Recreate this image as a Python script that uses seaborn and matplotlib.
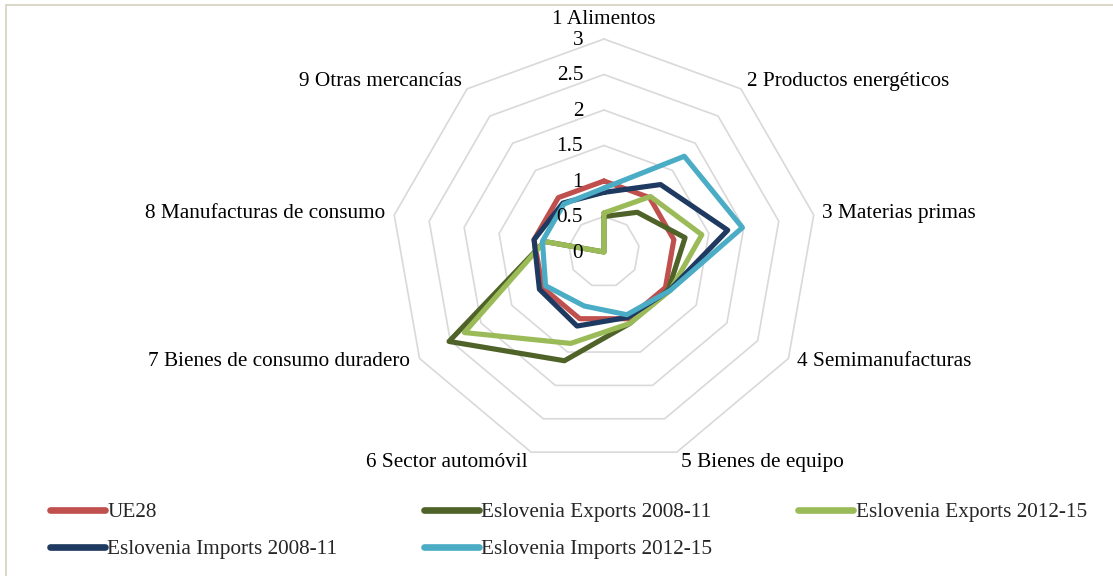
import numpy as np
import pandas as pd
import seaborn as sns
import matplotlib.pyplot as plt
from matplotlib.patches import Rectangle

# categories and series
categories = ["1 Alimentos", "2 Productos energéticos", "3 Materias primas",
              "4 Semimanufacturas", "5 Bienes de equipo", "6 Sector automóvil",
              "7 Bienes de consumo duradero", "8 Manufacturas de consumo",
              "9 Otras mercancías"]
ue28 = [1.0, 1.0, 1.0, 1.0, 1.0, 1.0, 1.0, 1.0, 1.0]
exp_0811 = [0.50, 0.73, 1.16, 1.05, 1.07, 1.63, 2.52, 0.85, 0.0]
exp_1215 = [0.55, 1.02, 1.40, 1.08, 1.07, 1.37, 2.27, 0.85, 0.0]
imp_0811 = [0.84, 1.24, 1.77, 1.07, 0.98, 1.11, 1.05, 1.00, 0.90]
imp_1215 = [0.90, 1.76, 1.98, 1.08, 0.94, 0.81, 0.95, 0.88, 0.88]
rings = [0.5, 1.0, 1.5, 2.0, 2.5, 3.0]

series = {"UE28": ue28,
          "Eslovenia Exports 2008-11": exp_0811,
          "Eslovenia Exports 2012-15": exp_1215,
          "Eslovenia Imports 2008-11": imp_0811,
          "Eslovenia Imports 2012-15": imp_1215}
colors = {"UE28": "#C0504D",
          "Eslovenia Exports 2008-11": "#4F6228",
          "Eslovenia Exports 2012-15": "#9BBB59",
          "Eslovenia Imports 2008-11": "#1F3A60",
          "Eslovenia Imports 2012-15": "#4BACC6"}

n = len(categories)
theta = np.linspace(0, 2 * np.pi, n + 1)

# long format, closing each polygon with its first value
rows = []
for name, vals in series.items():
    closed = list(vals) + [vals[0]]
    for i in range(n + 1):
        rows.append({"theta": theta[i], "value": closed[i], "serie": name})
df = pd.DataFrame(rows)

sns.set_style("white")
plt.rcParams["font.family"] = ["Liberation Serif", "DejaVu Serif"]
fs = 15.3

fig = plt.figure(figsize=(11.13, 5.76), dpi=100)
ax = fig.add_axes([0.3513, 0.1927, 0.3827, 0.7396], projection="polar")
ax.set_theta_zero_location("N")
ax.set_theta_direction(-1)
ax.set_facecolor("none")

# polygon grid
for r in rings:
    ax.plot(theta, [r] * (n + 1), color="#D9D9D9", lw=1.2, zorder=1, clip_on=False)

sns.lineplot(data=df, x="theta", y="value", hue="serie", hue_order=list(series.keys()),
             palette=colors, sort=False, estimator=None, linewidth=3.7, ax=ax, zorder=3)
for ln in ax.lines:
    ln.set_clip_on(False)

handles, labels = ax.get_legend_handles_labels()
ax.get_legend().remove()

ax.set_ylim(0, 3)
ax.grid(False)
ax.spines["polar"].set_visible(False)
ax.set_xticks([])
ax.set_yticks([])
ax.set_xlabel("")
ax.set_ylabel("")

# radial value labels
for r in [0] + rings:
    ax.annotate("{:g}".format(r), xy=(0, r), xytext=(-15, -1), textcoords="offset points",
                ha="right", va="center", fontsize=fs, color="black")

# category labels (offsets in points)
offsets = [(0, 14), (4.5, 5.5), (5.8, 1.2), (6.1, -2.5), (3.2, -7.2),
           (-2.4, -7.2), (-7, -2.5), (-6.5, 1.2), (-3.6, 5.5)]
for i, lab in enumerate(categories):
    s = np.sin(theta[i])
    ha = "center" if abs(s) < 0.1 else ("left" if s > 0 else "right")
    ax.annotate(lab, xy=(theta[i], 3.0), xytext=offsets[i], textcoords="offset points",
                ha=ha, va="center", fontsize=fs, color="black", annotation_clip=False)

# legend, row-wise order in 3 columns
order = [0, 3, 1, 4, 2]
leg = fig.legend([handles[i] for i in order], [labels[i] for i in order],
                 loc="upper left", bbox_to_anchor=(0.045, 0.128), ncol=3,
                 frameon=False, fontsize=fs, handlelength=2.6, handletextpad=0.1,
                 columnspacing=4.05, labelspacing=0.8, borderpad=0, borderaxespad=0)
for h in leg.legend_handles:
    h.set_linewidth(4.8)
    h.set_solid_capstyle("round")

# chart border
fig.patches.append(Rectangle((6 / 1113, -0.1), 1.2, 1.1 - 5 / 576, fill=False,
                             edgecolor="#D4CFBF", lw=1.2, transform=fig.transFigure))

fig.savefig("out.png", dpi=100)
